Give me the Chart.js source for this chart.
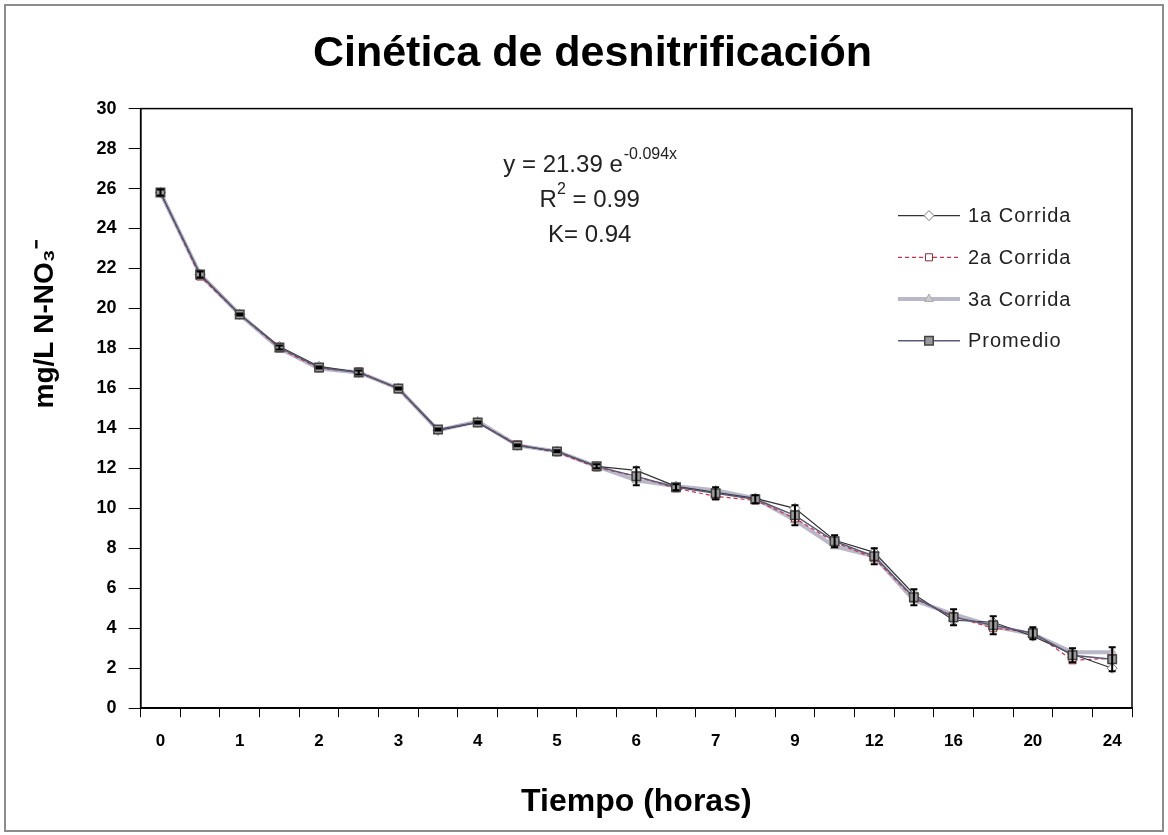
<!DOCTYPE html>
<html>
<head>
<meta charset="utf-8">
<script src="https://cdn.jsdelivr.net/npm/chart.js@4/dist/chart.umd.min.js"></script>
<style>
  body { margin: 0; background: #fff; }
  #wrap { position: relative; width: 1168px; height: 835px; }
</style>
</head>
<body>
<div id="wrap"><canvas id="myChart" width="1168" height="835"></canvas></div>
<script>
// hours (category axis, labels shown every other tick)
const horas = ['0', '0.5', '1', '1.5', '2', '2.5', '3', '3.5', '4', '4.5', '5', '5.5', '6', '6.5', '7', '8', '9', '10', '12', '14', '16', '18', '20', '22', '24']

const corrida1 = [25.8, 21.7, 19.7, 18.1, 17.1, 16.8, 16.0, 13.9, 14.3, 13.15, 12.85, 12.1, 11.9, 11.1, 10.8, 10.5, 10.0, 8.4, 7.8, 5.7, 4.4, 4.3, 3.6, 2.7, 2.0]
const corrida2 = [25.8, 21.6, 19.7, 18.0, 17.0, 16.85, 15.95, 13.95, 14.3, 13.2, 12.8, 12.05, 11.6, 11.0, 10.6, 10.4, 9.5, 8.3, 7.5, 5.5, 4.6, 4.0, 3.8, 2.4, 2.5]
const corrida3 = [25.8, 21.7, 19.7, 18.0, 17.0, 16.8, 16.0, 13.9, 14.35, 13.15, 12.85, 12.1, 11.4, 11.1, 10.9, 10.5, 9.4, 8.1, 7.6, 5.4, 4.7, 4.1, 3.7, 2.8, 2.8]
const promedio = [25.8, 21.7, 19.7, 18.05, 17.05, 16.8, 16.0, 13.95, 14.3, 13.15, 12.85, 12.1, 11.6, 11.05, 10.75, 10.45, 9.65, 8.35, 7.6, 5.55, 4.55, 4.15, 3.75, 2.65, 2.45]
const promedioErr = [0.15, 0.15, 0.05, 0.1, 0.05, 0.1, 0.05, 0.05, 0.05, 0.05, 0.05, 0.1, 0.45, 0.15, 0.3, 0.2, 0.5, 0.3, 0.4, 0.4, 0.4, 0.45, 0.3, 0.35, 0.6]

const yTicks = { min: 0, max: 30, step: 2 }

const ecuacion = ['y = 21.39 e', '-0.094x']
const r2 = ['R', '2', ' = 0.99']
const kTexto = 'K= 0.94'

const FONT = "'Liberation Sans', Arial, sans-serif"

const marco = {
	id: 'marco',
	beforeDraw(chart) {
		const c = chart.ctx
		c.save()
		c.fillStyle = '#fff'
		c.fillRect(0, 0, chart.width, chart.height)
		c.strokeStyle = '#8c8c8c'
		c.lineWidth = 2
		c.strokeRect(5, 5, chart.width - 10, chart.height - 9)
		c.restore()
	},
	afterDraw(chart) {
		const a = chart.chartArea
		const c = chart.ctx
		c.save()
		c.strokeStyle = '#000'
		c.lineWidth = 1.5
		c.strokeRect(a.left, a.top, a.right - a.left, a.bottom - a.top)
		c.restore()
	}
}

// error bars for Promedio
const barras = {
	id: 'barras',
	afterDatasetsDraw(chart) {
		const idx = chart.data.datasets.findIndex(d => d.label == 'Promedio')
		const meta = chart.getDatasetMeta(idx)
		const y = chart.scales.y
		const c = chart.ctx
		c.save()
		c.strokeStyle = '#000'
		c.lineWidth = 2
		meta.data.forEach((pt, i) => {
			const v = promedio[i], e = promedioErr[i]
			const y1 = y.getPixelForValue(v - e), y2 = y.getPixelForValue(v + e)
			c.beginPath()
			c.moveTo(pt.x, y1); c.lineTo(pt.x, y2)
			c.moveTo(pt.x - 3.5, y1); c.lineTo(pt.x + 3.5, y1)
			c.moveTo(pt.x - 3.5, y2); c.lineTo(pt.x + 3.5, y2)
			c.stroke()
		})
		c.restore()
	}
}

// equation text + legend inside plot area
const notas = {
	id: 'notas',
	afterDraw(chart) {
		const a = chart.chartArea
		const c = chart.ctx
		const cx = a.left + (a.right - a.left) * 0.453
		c.save()
		c.fillStyle = '#222'
		c.textBaseline = 'alphabetic'
		c.textAlign = 'left'

		const big = '24px ' + FONT, small = '16px ' + FONT
		c.font = big
		let w1 = c.measureText(ecuacion[0]).width
		c.font = small
		let w2 = c.measureText(ecuacion[1]).width
		let x0 = cx - (w1 + w2) / 2
		c.font = big
		c.fillText(ecuacion[0], x0, a.top + 63)
		c.font = small
		c.fillText(ecuacion[1], x0 + w1 + 1, a.top + 50)

		c.font = big
		w1 = c.measureText(r2[0]).width
		let w3 = c.measureText(r2[2]).width
		c.font = small
		w2 = c.measureText(r2[1]).width
		x0 = cx - (w1 + w2 + w3) / 2
		c.font = big
		c.fillText(r2[0], x0, a.top + 98)
		c.fillText(r2[2], x0 + w1 + w2, a.top + 98)
		c.font = small
		c.fillText(r2[1], x0 + w1, a.top + 85)

		c.font = big
		c.textAlign = 'center'
		c.fillText(kTexto, cx, a.top + 133)

		// legend
		c.textAlign = 'left'
		c.textBaseline = 'middle'
		c.font = '20px ' + FONT
		c.letterSpacing = '1px'
		chart.data.datasets.forEach((ds, i) => {
			const yy = a.top + 107 + i * 41.7
			const x1 = a.right - 234, x2 = a.right - 172
			c.save()
			c.strokeStyle = ds.borderColor
			c.lineWidth = ds.borderWidth
			c.setLineDash(ds.borderDash || [])
			c.beginPath()
			c.moveTo(x1, yy); c.lineTo(x2, yy)
			c.stroke()
			c.setLineDash([])
			c.fillStyle = ds.pointBackgroundColor
			c.strokeStyle = ds.pointBorderColor
			c.lineWidth = ds.pointBorderWidth
			Chart.helpers.drawPoint(c, {
				pointStyle: ds.pointStyle, radius: ds.pointRadius, borderWidth: ds.pointBorderWidth, rotation: 0
			}, (x1 + x2) / 2, yy)
			c.restore()
			c.fillStyle = '#222'
			c.fillText(ds.label, a.right - 164, yy + 1)
		})
		c.restore()
	}
}

const ctx = document.getElementById('myChart')

new Chart(ctx, {
	type: 'line',
	data: {
		labels: horas,
		datasets: [
			{
				label: '1a Corrida',
				data: corrida1,
				borderColor: '#333',
				borderWidth: 1.2,
				pointStyle: 'rectRot',
				pointRadius: 5,
				pointBackgroundColor: '#fff',
				pointBorderColor: '#777',
				pointBorderWidth: 1,
				order: 1,
			},
			{
				label: '2a Corrida',
				data: corrida2,
				borderColor: '#d0304a',
				borderWidth: 1.2,
				borderDash: [4, 3],
				pointStyle: 'rect',
				pointRadius: 5,
				pointBackgroundColor: '#fff',
				pointBorderColor: '#8a2a3a',
				pointBorderWidth: 1,
				order: 2,
			},
			{
				label: '3a Corrida',
				data: corrida3,
				borderColor: '#b8b8c8',
				borderWidth: 4,
				pointStyle: 'triangle',
				pointRadius: 5,
				pointBackgroundColor: '#ccc',
				pointBorderColor: '#aaa',
				pointBorderWidth: 1,
				order: 3,
			},
			{
				label: 'Promedio',
				data: promedio,
				borderColor: '#5a5a78',
				borderWidth: 1.5,
				pointStyle: 'rect',
				pointRadius: 6,
				pointBackgroundColor: '#9a9a9a',
				pointBorderColor: '#444',
				pointBorderWidth: 1.5,
				order: 0,
			},
		],
	},
	options: {
		responsive: false,
		animation: false,
		events: [],
		layout: {
			padding: { left: 10, right: 36, top: 0, bottom: 14 }
		},
		plugins: {
			legend: { display: false },
			tooltip: { enabled: false },
			title: {
				display: true,
				text: '\u2003Cinética de desnitrificación',
				color: '#000',
				font: { family: FONT, size: 43, weight: 'bold' },
				padding: { top: 28, bottom: 29 }
			}
		},
		scales: {
			x: {
				type: 'category',
				offset: true,
				border: { color: '#000', width: 1.5 },
				grid: { display: true, drawOnChartArea: false, offset: true, tickLength: 9, color: '#000' },
				ticks: {
					autoSkip: false,
					maxRotation: 0,
					padding: 14,
					color: '#000',
					font: { family: FONT, size: 17, weight: 'bold' },
					callback: function (val, i) { return i % 2 == 0 ? this.getLabelForValue(val) : '' }
				},
				title: {
					display: true,
					text: 'Tiempo (horas)',
					color: '#000',
					font: { family: FONT, size: 32, weight: 'bold' },
					padding: { top: 17, bottom: 0 }
				}
			},
			y: {
				min: yTicks.min,
				max: yTicks.max,
				border: { color: '#000', width: 1.5 },
				grid: { display: true, drawOnChartArea: false, tickLength: 12, color: '#000' },
				ticks: {
					stepSize: yTicks.step,
					padding: 12,
					color: '#000',
					font: { family: FONT, size: 18, weight: 'bold' }
				},
				title: {
					display: true,
					text: '\u2003\u2003\u2003\u2003\u2003\u2003mg/L N-NO₃⁻',
					color: '#000',
					font: { family: FONT, size: 28, weight: 'bold' },
					padding: { top: 18, bottom: 23 }
				}
			}
		}
	},
	plugins: [marco, barras, notas]
})
</script>
</body>
</html>
